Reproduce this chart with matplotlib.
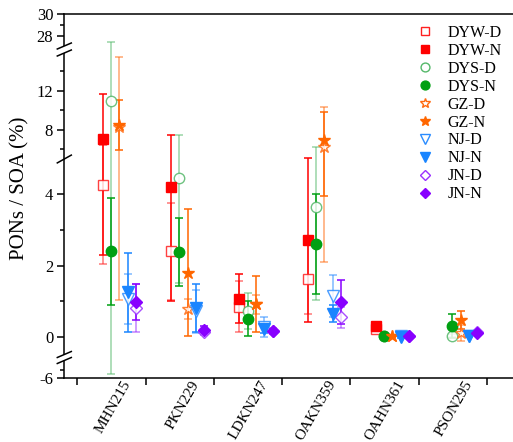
import numpy as np
import matplotlib
matplotlib.use('Agg')
import matplotlib.pyplot as plt
from matplotlib.lines import Line2D
from matplotlib.patches import Rectangle

plt.rcParams['font.family'] = 'Liberation Serif'

sites = ['MHN215', 'PKN229', 'LDKN247', 'OAKN359', 'OAHN361', 'PSON295']
nan = np.nan

dyw_d = [4.25, 2.4, 0.85, 1.64, 0.22, nan]
dyw_d_err = [2.2, 1.35, 0.71, 0.98, 0.08, nan]
dyw_n = [7.0, 4.21, 1.08, 2.73, 0.3, nan]
dyw_n_err = [4.7, 3.2, 0.69, 2.3, 0.12, nan]

dys_d = [11.0, 4.47, 0.74, 3.64, 0.04, 0.04]
dys_d_err = [16.5, 2.95, 0.5, 2.6, 0.03, 0.05]
dys_n = [2.41, 2.39, 0.52, 2.62, 0.04, 0.31]
dys_n_err = [1.5, 0.95, 0.5, 1.4, 0.03, 0.33]

gz_d = [8.25, 0.8, 0.92, 6.2, 0.04, 0.12]
gz_d_err = [7.2, 0.28, 0.27, 4.1, 0.03, 0.22]
gz_n = [8.45, 1.8, 0.92, 6.9, 0.04, 0.48]
gz_n_err = [2.6, 1.78, 0.79, 2.95, 0.03, 0.26]

nj_d = [1.06, 0.72, 0.28, 1.15, 0.02, 0.04]
nj_d_err = [0.7, 0.6, 0.27, 0.58, 0.02, 0.03]
nj_n = [1.25, 0.82, 0.22, 0.66, 0.0, 0.04]
nj_n_err = [1.1, 0.68, 0.1, 0.25, 0.02, 0.03]

jn_d = [0.82, 0.15, 0.17, 0.55, 0.03, 0.13]
jn_d_err = [0.68, 0.08, 0.08, 0.3, 0.02, 0.05]
jn_n = [0.98, 0.2, 0.17, 0.99, 0.03, 0.1]
jn_n_err = [0.5, 0.12, 0.06, 0.62, 0.02, 0.04]

# (label, values, errors, colour, marker, size, filled, group)
series = [
    ('DYW-D', dyw_d, dyw_d_err, '#ff2020', 's', 7, False, 0),
    ('DYW-N', dyw_n, dyw_n_err, '#ff0000', 's', 7, True, 0),
    ('DYS-D', dys_d, dys_d_err, '#55b86a', 'o', 7.5, False, 1),
    ('DYS-N', dys_n, dys_n_err, '#00a012', 'o', 7.5, True, 1),
    ('GZ-D', gz_d, gz_d_err, '#ff6a10', '*', 9, False, 2),
    ('GZ-N', gz_n, gz_n_err, '#ff6600', '*', 9, True, 2),
    ('NJ-D', nj_d, nj_d_err, '#2a8cff', 'v', 8, False, 3),
    ('NJ-N', nj_n, nj_n_err, '#1a85ff', 'v', 8, True, 3),
    ('JN-D', jn_d, jn_d_err, '#9a30ff', 'D', 6, False, 4),
    ('JN-N', jn_n, jn_n_err, '#8800ff', 'D', 6, True, 4),
]

# broken y axis: piecewise linear mapping value -> axes fraction
brk_vals = [-6, -3.5, -0.5, 5, 16, 26.7, 30]
brk_pix = np.array([378, 358, 354.9, 158.7, 52, 50.3, 14])
brk_frac = (378 - brk_pix) / 364.0


def fwd(v):
    return np.interp(v, brk_vals, brk_frac)


def inv(f):
    return np.interp(f, brk_frac, brk_vals)


fig = plt.figure(figsize=(5.13, 4.42), dpi=100)
ax = fig.add_axes([64.3 / 513, 64 / 442, 1 - 64.3 / 513, 364 / 442])
ax.set_yscale('function', functions=(fwd, inv))
ax.set_ylim(-6, 30)

x0 = np.arange(len(sites)) + 0.615
step = 0.122

for label, vals, errs, color, marker, ms, filled, g in series:
    x = x0 + (g - 2) * step
    ax.errorbar(x, vals, yerr=errs, fmt='none', ecolor=color,
                elinewidth=1.1, capsize=3.2, capthick=1.1,
                alpha=1.0 if filled else 0.6, zorder=2)

for label, vals, errs, color, marker, ms, filled, g in series:
    x = x0 + (g - 2) * step
    if filled:
        ax.plot(x, vals, ls='none', marker=marker, ms=ms, mfc=color,
                mec=color, mew=1, zorder=4)
    else:
        ax.plot(x, vals, ls='none', marker=marker, ms=ms, mfc='white',
                mec=color, mew=1, alpha=0.85, zorder=3)

# axes styling
ax.spines['right'].set_visible(False)
for s in ['left', 'bottom', 'top']:
    ax.spines[s].set_linewidth(1.1)

ax.set_xlim(-0.19, (513 - 77.3) / 68.3)
ax.set_xticks(np.arange(7))
ax.set_xticklabels([])
ax.set_xticks(x0 + 0.13, sites, minor=True)
ax.tick_params(axis='x', which='major', direction='out', length=5, width=1.1)
ax.tick_params(axis='x', which='minor', length=0, pad=2.5, labelsize=11)
for lbl in ax.get_xticklabels(minor=True):
    lbl.set_rotation(60)
    lbl.set_ha('right')
    lbl.set_va('center')
    lbl.set_rotation_mode('anchor')

ax.set_yticks([-6, 0, 2, 4, 8, 12, 28, 30])
ax.set_yticklabels(['-6', '0', '2', '4', '8', '12', '28', '30'])
ax.set_yticks([-5, 1, 3, 6, 10, 14, 29], minor=True)
ax.tick_params(axis='y', which='major', direction='out', length=5,
               width=1.1, labelsize=12, pad=3)
ax.tick_params(axis='y', which='minor', direction='out', length=3, width=1.1)
ax.tick_params(axis='y', which='minor', labelleft=False)

fig.text(20 / 513, 1 - 188 / 442, 'PONs / SOA (%)', rotation=90,
         ha='center', va='center', fontsize=15)

# break marks on the left spine
W = 448.7


def brk(y_pix, gap, single=False):
    yc = (378 - y_pix) / 364.0
    dx = 7 / W
    dy = 3 / 364.0
    g = gap / 364.0
    if single:
        ax.plot([-dx, dx], [yc - 1.3 * dy, yc + 1.3 * dy], color='black',
                lw=1.1, clip_on=False, zorder=6, transform=ax.transAxes)
        return
    ax.add_patch(Rectangle((-3 / W, yc - g / 2), 6 / W, g, transform=ax.transAxes,
                           facecolor='white', edgecolor='none', clip_on=False,
                           zorder=5))
    for off in (-g / 2, g / 2):
        ax.plot([-dx, dx], [yc + off - dy, yc + off + dy], color='black',
                lw=1.1, clip_on=False, zorder=6, transform=ax.transAxes)


brk(49.5, 7)
brk(159, 0, single=True)
brk(357.5, 6)

handles = []
for label, vals, errs, color, marker, ms, filled, g in series:
    handles.append(Line2D([], [], ls='none', marker=marker,
                          ms=ms * 0.85, mfc=color if filled else 'white',
                          mec=color, mew=1))
ax.legend(handles, [s[0] for s in series], loc='upper left',
          bbox_to_anchor=(417 / 513, 1 - 25 / 442),
          bbox_transform=fig.transFigure, frameon=False, fontsize=11.5,
          handlelength=1.0, handletextpad=0.9, labelspacing=0.12,
          borderpad=0, borderaxespad=0)

fig.savefig('out.png', dpi=100)
